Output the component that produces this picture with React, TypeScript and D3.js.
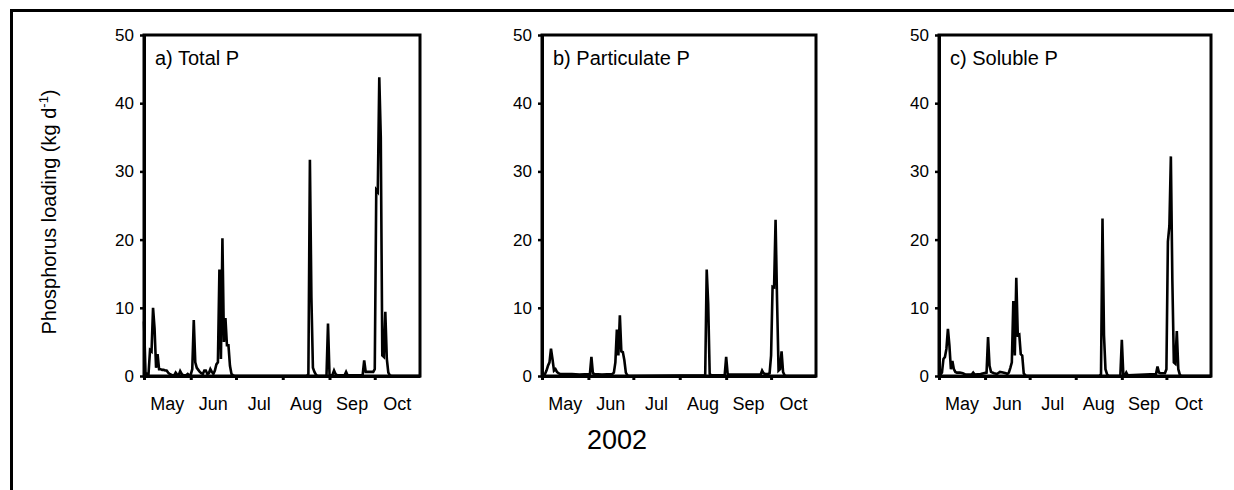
import React, { useEffect, useRef } from 'react';
import * as d3 from 'd3';

// [day since 1 May 2002, kg d-1]
const totalP: [number, number][] = [
  [0, 8], [1, 0.5], [2, 0.3], [3, 0.3], [4, 3.8], [5, 3.6], [6, 10], [7, 7], [8, 1.2], [9, 3.2],
  [10, 1], [11, 1], [12, 0.9], [13, 0.9], [14, 0.8], [15, 0.8], [16, 0.5], [17, 0.3], [18, 0.2],
  [19, 0.1], [20, 0.1], [21, 0.5], [22, 0.2], [23, 0.1], [24, 0.7], [25, 0.3], [26, 0.1], [28, 0.1],
  [29, 0.3], [30, 0.1], [31, 0.2], [32, 1], [33, 8.2], [34, 2], [35, 1.2], [36, 0.9], [37, 0.6],
  [38, 0.4], [39, 0.3], [40, 0.8], [41, 0.8], [42, 0.3], [43, 0.4], [44, 1], [45, 0.6], [46, 0.3],
  [47, 0.8], [48, 1.7], [49, 2], [50, 15.6], [51, 2.5], [52, 20.2], [53, 5], [54, 8.5], [55, 4.5],
  [56, 4.5], [57, 1.5], [58, 0.3], [59, 0.1], [60, 0], [108, 0], [109, 0.3], [110, 31.7], [111, 11.5],
  [112, 1.2], [113, 0.6], [114, 0.2], [115, 0], [121, 0], [122, 7.7], [123, 0.2], [124, 0.1],
  [125, 0.2], [126, 0.8], [127, 0.3], [128, 0.1], [133, 0.1], [134, 0.6], [135, 0.1], [144, 0.1],
  [145, 0.2], [146, 2.3], [147, 0.6], [148, 0.6], [149, 0.6], [150, 0.6], [151, 0.6], [152, 0.6],
  [153, 1], [154, 27.3], [155, 27], [156, 43.8], [157, 35], [158, 3], [159, 2.8], [160, 9.4],
  [161, 2.5], [162, 0.5], [163, 0.1], [164, 0], [183, 0]
];

const particulateP: [number, number][] = [
  [0, 0.2], [1, 0.3], [2, 0.3], [3, 0.8], [4, 1.5], [5, 2], [6, 4], [7, 2.5], [8, 0.8], [9, 1],
  [10, 0.6], [11, 0.4], [12, 0.3], [20, 0.3], [25, 0.2], [32, 0.3], [33, 2.8], [34, 0.4], [35, 0.3],
  [40, 0.2], [47, 0.3], [48, 0.5], [49, 2], [50, 6.8], [51, 3], [52, 8.9], [53, 3.6], [54, 3.5],
  [55, 2.3], [56, 0.5], [57, 0.1], [58, 0], [109, 0.1], [110, 15.6], [111, 10.6], [112, 0.3],
  [113, 0.1], [122, 0.1], [123, 2.8], [124, 0.3], [125, 0.2], [146, 0.2], [147, 0.8], [148, 0.4],
  [149, 0.3], [150, 0.3], [151, 0.3], [152, 0.4], [153, 3], [154, 13.1], [155, 13], [156, 22.9],
  [157, 11], [158, 0.8], [159, 1], [160, 3.6], [161, 0.6], [162, 0.1], [163, 0], [183, 0]
];

const solubleP: [number, number][] = [
  [0, 0.3], [1, 0.2], [2, 0.5], [3, 2.5], [4, 2.8], [5, 4], [6, 6.9], [7, 4.5], [8, 1], [9, 2.2],
  [10, 1], [11, 0.6], [12, 0.5], [14, 0.5], [16, 0.4], [18, 0.2], [22, 0.2], [23, 0.5], [24, 0.2],
  [28, 0.3], [32, 0.5], [33, 5.7], [34, 1.5], [35, 0.6], [37, 0.4], [39, 0.3], [41, 0.6], [43, 0.5],
  [45, 0.4], [46, 0.3], [47, 0.5], [48, 1.2], [49, 2], [50, 11], [51, 3], [52, 14.4], [53, 6],
  [54, 6.1], [55, 3.2], [56, 3], [57, 0.4], [58, 0.1], [59, 0], [108, 0], [109, 0.3], [110, 23.1],
  [111, 6], [112, 1], [113, 0.3], [114, 0], [122, 0], [123, 5.3], [124, 0.2], [125, 0.1], [126, 0.5],
  [127, 0.1], [146, 0.3], [147, 1.4], [148, 0.5], [149, 0.4], [150, 0.4], [151, 0.4], [152, 0.4],
  [153, 1], [154, 19.7], [155, 22], [156, 32.2], [157, 14], [158, 2], [159, 1.8], [160, 6.6],
  [161, 1], [162, 0.2], [163, 0], [183, 0]
];

const seriesList = [totalP, particulateP, solubleP];
const panelLabels = ['a) Total P', 'b) Particulate P', 'c) Soluble P'];
const yTicks = [0, 10, 20, 30, 40, 50];
const yearLabel = '2002';

const panelBounds = [
  { left: 144, right: 420 },
  { left: 542, right: 816 },
  { left: 939, right: 1211 }
];

const FONT = '"Liberation Sans", Arial, sans-serif';

export default function App() {
  const svgRef = useRef<SVGSVGElement>(null);

  useEffect(() => {
    if (!svgRef.current) return;
    const svg = d3.select(svgRef.current);
    svg.selectAll('*').remove();

    const top = 35;
    const bottom = 376;
    const start = new Date(2002, 4, 1);
    const end = new Date(2002, 9, 31);

    // outer frame (cropped on right and bottom)
    svg.append('path')
      .attr('d', 'M11.5,490 L11.5,10.5 L1234,10.5')
      .attr('fill', 'none')
      .attr('stroke', '#000')
      .attr('stroke-width', 3);

    seriesList.forEach((series, i) => {
      const { left, right } = panelBounds[i];
      const x = d3.scaleTime().domain([start, end]).range([left, right]);
      const y = d3.scaleLinear().domain([0, 50]).range([bottom, top]);

      const g = svg.append('g');

      const line = d3.line<[number, number]>()
        .x(d => x(d3.timeDay.offset(start, d[0])))
        .y(d => y(d[1]));

      g.append('path')
        .datum(series)
        .attr('d', line)
        .attr('fill', 'none')
        .attr('stroke', '#000')
        .attr('stroke-width', 2.6)
        .attr('stroke-linejoin', 'miter');

      // frame
      g.append('rect')
        .attr('x', left)
        .attr('y', top)
        .attr('width', right - left)
        .attr('height', bottom - top)
        .attr('fill', 'none')
        .attr('stroke', '#000')
        .attr('stroke-width', 3);

      // y axis
      const yAxis = d3.axisLeft(y).tickValues(yTicks).tickSize(4).tickSizeOuter(0).tickPadding(6);
      const ya = g.append('g')
        .attr('transform', `translate(${left},0)`)
        .call(yAxis);
      ya.select('.domain').attr('stroke-width', 3);
      ya.selectAll('.tick line').attr('stroke-width', 2.5);
      ya.selectAll('.tick text')
        .attr('font-family', FONT)
        .attr('font-size', 17)
        .attr('fill', '#000');

      // x axis: month ticks at month starts, labels mid-month
      const months = d3.timeMonth.range(start, d3.timeDay.offset(end, 1));
      const xAxis = d3.axisBottom(x).tickValues(months).tickSize(4).tickSizeOuter(0).tickFormat(() => '');
      const xa = g.append('g')
        .attr('transform', `translate(0,${bottom})`)
        .call(xAxis);
      xa.select('.domain').attr('stroke-width', 3);
      xa.selectAll('.tick line').attr('stroke-width', 3);

      g.selectAll('.month-label')
        .data(months)
        .enter()
        .append('text')
        .attr('class', 'month-label')
        .attr('x', d => {
          const next = d3.min([d3.timeMonth.offset(d, 1), end]) as Date;
          return (x(d) + x(next)) / 2;
        })
        .attr('y', 410)
        .attr('text-anchor', 'middle')
        .attr('font-family', FONT)
        .attr('font-size', 18)
        .text(d => d3.timeFormat('%b')(d));

      g.append('text')
        .attr('x', left + 11)
        .attr('y', 65)
        .attr('font-family', FONT)
        .attr('font-size', 20)
        .text(panelLabels[i]);
    });

    // y axis title
    const yTitle = svg.append('text')
      .attr('transform', 'translate(56,212) rotate(-90)')
      .attr('text-anchor', 'middle')
      .attr('font-family', FONT)
      .attr('font-size', 20);
    yTitle.append('tspan').text('Phosphorus loading (kg d');
    yTitle.append('tspan').attr('font-size', 13).attr('dy', -8).text('-1');
    yTitle.append('tspan').attr('dy', 8).text(')');

    svg.append('text')
      .attr('x', 617)
      .attr('y', 449)
      .attr('text-anchor', 'middle')
      .attr('font-family', FONT)
      .attr('font-size', 27)
      .text(yearLabel);
  }, []);

  return (
    <svg
      ref={svgRef}
      width={1234}
      height={490}
      style={{ position: 'absolute', left: 0, top: 0, background: '#fff' }}
    />
  );
}
